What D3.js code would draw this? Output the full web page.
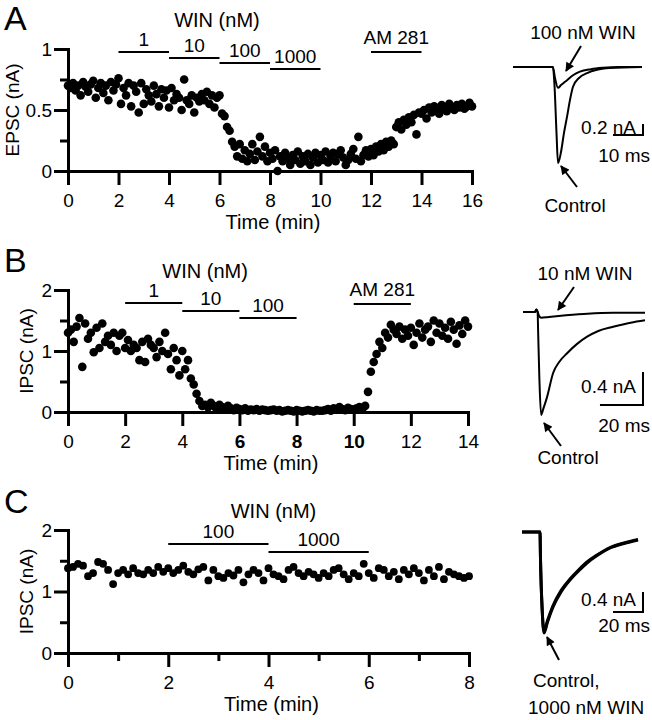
<!DOCTYPE html>
<html>
<head>
<meta charset="utf-8">
<script src="https://cdn.jsdelivr.net/npm/d3@7"></script>
<style>
  body { margin: 0; background: #fff; }
  text { font-family: "Liberation Sans", Arial, Helvetica, sans-serif; fill: #000; }
</style>
</head>
<body>
<svg id="fig" width="652" height="720"></svg>
<script>
// one sweep every 6 s
const sampleMin = 0.1

// A: EPSC amplitude (nA), 0-16 min
const epscA = [
  0.70,0.68,0.72,0.66,0.70,0.62,0.73,0.69,0.65,0.71, 0.74,0.60,0.68,0.72,0.64,0.70,0.58,0.73,0.66,0.71,
  0.76,0.55,0.68,0.62,0.72,0.53,0.70,0.65,0.48,0.72, 0.55,0.67,0.62,0.57,0.70,0.63,0.53,0.67,0.60,0.66,
  0.52,0.68,0.58,0.63,0.60,0.50,0.75,0.58,0.55,0.62, 0.48,0.60,0.57,0.63,0.58,0.65,0.55,0.62,0.52,0.60,
  0.62,0.47,0.45,0.36,0.33,0.24,0.20,0.12,0.22,0.10, 0.17,0.08,0.14,0.22,0.09,0.16,0.28,0.12,0.20,0.08,
  0.15,0.10,0.17,0.00,0.12,0.08,0.15,0.10,0.05,0.13, 0.09,0.16,0.06,0.12,0.08,0.14,0.05,0.11,0.15,0.07,
  0.13,0.09,0.16,0.07,0.12,0.15,0.08,0.14,0.17,0.11, 0.05,0.09,0.14,0.18,0.10,0.28,0.08,0.13,0.17,0.12,
  0.18,0.13,0.20,0.16,0.22,0.17,0.24,0.20,0.25,0.22, 0.36,0.40,0.34,0.42,0.38,0.44,0.40,0.46,0.30,0.48,
  0.47,0.50,0.43,0.52,0.48,0.53,0.50,0.47,0.54,0.51, 0.49,0.55,0.52,0.50,0.54,0.52,0.55,0.51,0.53,0.56,
  0.53
]
// B: IPSC amplitude (nA), 0-14 min
const ipscB = [
  1.30,1.35,1.15,1.40,1.54,0.74,1.45,1.20,1.30,0.98, 1.38,1.05,1.45,1.15,1.25,1.10,1.30,1.00,1.25,1.30,
  1.05,1.18,1.00,1.10,1.05,0.85,1.15,0.82,1.20,1.10, 1.05,0.90,1.15,1.00,1.30,0.95,0.70,1.05,0.85,0.60,
  1.00,0.70,0.85,0.55,0.45,0.30,0.18,0.10,0.12,0.08, 0.15,0.10,0.05,0.12,0.08,0.04,0.10,0.06,0.03,0.07,
  0.05,0.03,0.06,0.02,0.04,0.03,0.05,0.02,0.04,0.03, 0.02,0.03,0.04,0.02,0.03,0.01,0.02,0.03,0.02,0.01,
  0.03,0.02,0.01,0.02,0.03,0.02,0.01,0.03,0.02,0.02, 0.03,0.05,0.02,0.06,0.04,0.08,0.05,0.03,0.07,0.05,
  0.04,0.06,0.08,0.05,0.10,0.33,0.66,0.82,0.95,1.15, 1.05,1.30,1.22,1.43,1.35,1.28,1.40,1.20,1.35,1.25,
  1.38,1.10,1.30,1.45,1.22,1.35,1.40,1.15,1.50,1.30, 1.45,1.25,1.38,1.20,1.48,1.35,1.12,1.42,1.28,1.50,
  1.40
]
// C: IPSC amplitude (nA), 0-8 min
const ipscC = [
  1.38,1.40,1.45,1.42,1.25,1.30,1.48,1.45,1.35,1.12, 1.30,1.35,1.28,1.38,1.30,1.28,1.35,1.30,1.40,1.32,
  1.38,1.30,1.35,1.42,1.32,1.28,1.36,1.40,1.18,1.35, 1.25,1.22,1.30,1.26,1.35,1.15,1.28,1.35,1.30,1.18,
  1.38,1.28,1.25,1.20,1.35,1.40,1.30,1.25,1.32,1.28, 1.22,1.30,1.25,1.35,1.38,1.28,1.20,1.30,1.25,1.45,
  1.30,1.22,1.38,1.35,1.25,1.32,1.20,1.35,1.28,1.38, 1.30,1.18,1.35,1.25,1.40,1.20,1.32,1.28,1.25,1.22,
  1.25
]

// ticks
const xTicksA = [0,2,4,6,8,10,12,14,16]
const yTicksA = [0,0.5,1], yMinorA = [0.25,0.75]
const xTicksB = [0,2,4,6,8,10,12,14]
const yTicksB = [0,1,2], yMinorB = [0.5,1.5]
const xTicksC = [0,2,4,6,8], xMinorC = [1,3,5,7]
const yTicksC = [0,1,2], yMinorC = [0.5,1.5]

// drug applications (min)
const drugA = ['1','10','100','1000','AM 281'], drugStartA = [2,4,6,8,12], drugEndA = [4,6,8,10,14]
const drugB = ['1','10','100','AM 281'],        drugStartB = [2,4,6,10],    drugEndB = [4,6,8,12]
const drugC = ['100','1000'],                    drugStartC = [2,4],         drugEndC = [4,6]

// example traces [ms, nA]
const traceACtrl = [[0,0],[13.3,0],[13.8,-0.3],[14.5,-1.2],[15,-1.75],[16,-1.55],[17,-1.2],[18,-0.91],[19,-0.6],[20,-0.36],[22,-0.2],[24.7,-0.11],[28,-0.05],[32.3,-0.02],[43,0]]
const traceAWin  = [[0,0],[13.3,0],[14,-0.2],[15,-0.38],[16,-0.33],[18,-0.24],[20,-0.15],[22.3,-0.085],[26,-0.04],[30,-0.015],[35,0],[43,0]]
const traceBCtrl = [[0,0],[5.5,0],[6.2,0.03],[6.8,0],[7,-0.2],[7.6,-0.8],[8.4,-1.25],[9.5,-1.17],[11.2,-1.03],[14,-0.74],[17,-0.6],[20.5,-0.5],[25,-0.39],[29.8,-0.3],[35,-0.23],[41.9,-0.18],[50,-0.13],[56.7,-0.1]]
const traceBWin  = [[0,0],[5.5,0],[6.2,0.03],[6.8,0],[7.5,-0.05],[8.4,-0.07],[12,-0.06],[20,-0.04],[30,-0.02],[42,-0.01],[56.7,-0.01]]
const traceCCtrl = [[0,0],[12,0],[12.3,-0.5],[13.5,-1.6],[14.7,-2.02],[17,-1.8],[20.7,-1.5],[26,-1.2],[32,-0.96],[38,-0.77],[43.3,-0.62],[50,-0.47],[58.7,-0.32],[68,-0.23],[77.3,-0.16]]
const traceCWin  = [[0,0],[12,0],[12.3,-0.5],[13.5,-1.58],[14.7,-1.98],[17,-1.77],[20.7,-1.47],[26,-1.17],[32,-0.94],[38,-0.75],[43.3,-0.6],[50,-0.46],[58.7,-0.31],[68,-0.22],[77.3,-0.15]]

const svg = d3.select('#fig')

svg.append('defs').append('marker')
  .attr('id', 'head').attr('viewBox', '0 0 10 10')
  .attr('refX', 9).attr('refY', 5)
  .attr('markerWidth', 11).attr('markerHeight', 9)
  .attr('markerUnits', 'userSpaceOnUse').attr('orient', 'auto')
  .append('path').attr('d', 'M0,0L10,5L0,10z').attr('fill', '#000')

function panel(p) {
  const x = d3.scaleLinear().domain([0, p.xMax]).range([68, p.right])
  const y = d3.scaleLinear().domain([0, p.yMax]).range([p.bottom, p.top])
  const g = svg.append('g')

  // minor ticks first
  if (p.yMinor) g.append('g').attr('transform', 'translate(68,0)')
    .call(d3.axisLeft(y).tickValues(p.yMinor).tickSize(8).tickFormat(''))
  if (p.xMinor) g.append('g').attr('transform', `translate(0,${p.bottom})`)
    .call(d3.axisBottom(x).tickValues(p.xMinor).tickSize(8).tickFormat(''))

  g.append('g').attr('class', 'yax').attr('transform', 'translate(68,0)')
    .call(d3.axisLeft(y).tickValues(p.yTicks).tickSize(14).tickSizeOuter(0).tickPadding(2).tickFormat(d => String(d)))
  g.append('g').attr('class', 'xax').attr('transform', `translate(0,${p.bottom})`)
    .call(d3.axisBottom(x).tickValues(p.xTicks).tickSize(14).tickSizeOuter(0).tickPadding(9))

  g.selectAll('.domain').attr('stroke', '#000').attr('stroke-width', 3).attr('stroke-linecap', 'square')
  g.selectAll('.tick line').attr('stroke', '#000').attr('stroke-width', 3)
  g.selectAll('.tick text').attr('font-size', 19).attr('fill', '#000')
    .style('font-family', '"Liberation Sans", Arial, sans-serif')
  if (p.bold) g.select('.xax').selectAll('.tick text')
    .attr('font-weight', d => p.bold.includes(d) ? 'bold' : 'normal')

  // axis titles
  g.append('text').attr('x', (68 + p.right) / 2 + 3).attr('y', p.bottom + 58)
    .attr('text-anchor', 'middle').attr('font-size', 20).text('Time (min)')
  g.append('text').attr('transform', `translate(${p.yLabelX},${(p.top + p.bottom) / 2}) rotate(-90)`)
    .attr('text-anchor', 'middle').attr('font-size', 19).text(p.yLabel)

  // panel letter
  g.append('text').attr('x', 4).attr('y', p.letterY).attr('font-size', 34).text(p.letter)

  // drug bars
  g.append('text').attr('x', x(p.winAt)).attr('y', p.winY)
    .attr('text-anchor', 'middle').attr('font-size', 20).text('WIN (nM)')
  p.drugs.forEach((name, i) => {
    const x0 = x(p.starts[i]), x1 = x(p.ends[i]), yy = p.barY[i]
    g.append('line').attr('x1', x0).attr('x2', x1).attr('y1', yy).attr('y2', yy)
      .attr('stroke', '#000').attr('stroke-width', 2)
    g.append('text').attr('x', (x0 + x1) / 2).attr('y', yy - (name === 'AM 281' ? 8 : 6))
      .attr('text-anchor', 'middle').attr('font-size', 19).text(name)
  })

  // points
  g.append('g').selectAll('circle').data(p.values).enter().append('circle')
    .attr('cx', (d, i) => x(i * sampleMin))
    .attr('cy', d => y(d))
    .attr('r', p.r)
    .attr('fill', '#000')
}

function inset(p) {
  const xs = d3.scaleLinear().domain(p.msDomain).range(p.xRange)
  const ys = d3.scaleLinear().domain(p.nADomain).range(p.yRange)
  const line = d3.line().x(d => xs(d[0])).y(d => ys(d[1])).curve(d3.curveMonotoneX)
  const g = svg.append('g')
  p.traces.forEach(t => {
    g.append('path').attr('d', line(t)).attr('fill', 'none')
      .attr('stroke', '#000').attr('stroke-width', p.sw).attr('stroke-linejoin', 'round')
  })
  // scale bar
  const cx = p.barCorner[0], cy = p.barCorner[1]
  const w = xs(p.barMs) - xs(0), h = ys(-p.barNA) - ys(0)
  g.append('path').attr('d', `M${cx - w},${cy}H${cx}V${cy - h}`)
    .attr('fill', 'none').attr('stroke', '#000').attr('stroke-width', 2)
  g.append('text').attr('x', cx - 7).attr('y', cy - h / 2 + 4).attr('text-anchor', 'end')
    .attr('font-size', 19).text(p.barNA + ' nA')
  g.append('text').attr('x', 650).attr('y', p.msY).attr('text-anchor', 'end')
    .attr('font-size', 19).text(p.barMs + ' ms')
  p.arrows.forEach(a => {
    g.append('line').attr('x1', a[0]).attr('y1', a[1]).attr('x2', a[2]).attr('y2', a[3])
      .attr('stroke', '#000').attr('stroke-width', 2).attr('marker-end', 'url(#head)')
  })
  p.labels.forEach(l => {
    g.append('text').attr('x', l[0]).attr('y', l[1]).attr('text-anchor', l[3] || 'middle')
      .attr('font-size', 19).text(l[2])
  })
}

panel({ letter: 'A', letterY: 30, values: epscA, xMax: 16, yMax: 1, right: 472, bottom: 171, top: 49,
  xTicks: xTicksA, yTicks: yTicksA, yMinor: yMinorA, yLabel: 'EPSC (nA)', yLabelX: 19,
  drugs: drugA, starts: drugStartA, ends: drugEndA, barY: [52, 58, 63, 69, 52],
  winAt: 5.9, winY: 27, r: 4.3 })

panel({ letter: 'B', letterY: 272, values: ipscB, xMax: 14, yMax: 2, right: 468, bottom: 412, top: 290,
  xTicks: xTicksB, yTicks: yTicksB, yMinor: yMinorB, yLabel: 'IPSC (nA)', yLabelX: 33, bold: [6, 8, 10],
  drugs: drugB, starts: drugStartB, ends: drugEndB, barY: [303, 311, 318, 304],
  winAt: 4.8, winY: 278, r: 4.3 })

panel({ letter: 'C', letterY: 513, values: ipscC, xMax: 8, yMax: 2, right: 469, bottom: 653, top: 530,
  xTicks: xTicksC, xMinor: xMinorC, yTicks: yTicksC, yMinor: yMinorC, yLabel: 'IPSC (nA)', yLabelX: 33,
  drugs: drugC, starts: drugStartC, ends: drugEndC, barY: [544, 552],
  winAt: 4.1, winY: 518, r: 3.9 })

inset({ msDomain: [0, 43], xRange: [513, 642], nADomain: [-1.75, 0], yRange: [163, 67],
  traces: [traceACtrl, traceAWin], sw: 2,
  barCorner: [643, 135], barMs: 10, barNA: 0.2, msY: 162,
  arrows: [[581, 46, 566, 71], [577, 187, 561, 166]],
  labels: [[583, 39, '100 nM WIN'], [575, 212, 'Control']] })

inset({ msDomain: [0, 56.7], xRange: [523, 645], nADomain: [-1.25, 0], yRange: [415, 312],
  traces: [traceBCtrl, traceBWin], sw: 2,
  barCorner: [643, 405], barMs: 20, barNA: 0.4, msY: 432,
  arrows: [[574, 287, 558, 310], [561, 446, 544, 423]],
  labels: [[585, 280, '10 nM WIN'], [568, 464, 'Control']] })

inset({ msDomain: [0, 77.3], xRange: [522, 638], nADomain: [-2.02, 0], yRange: [633, 532],
  traces: [traceCCtrl, traceCWin], sw: 3,
  barCorner: [643, 612], barMs: 20, barNA: 0.4, msY: 632,
  arrows: [[559, 660, 547, 637]],
  labels: [[533, 687, 'Control,', 'start'], [528, 714, '1000 nM WIN', 'start']] })
</script>
</body>
</html>
